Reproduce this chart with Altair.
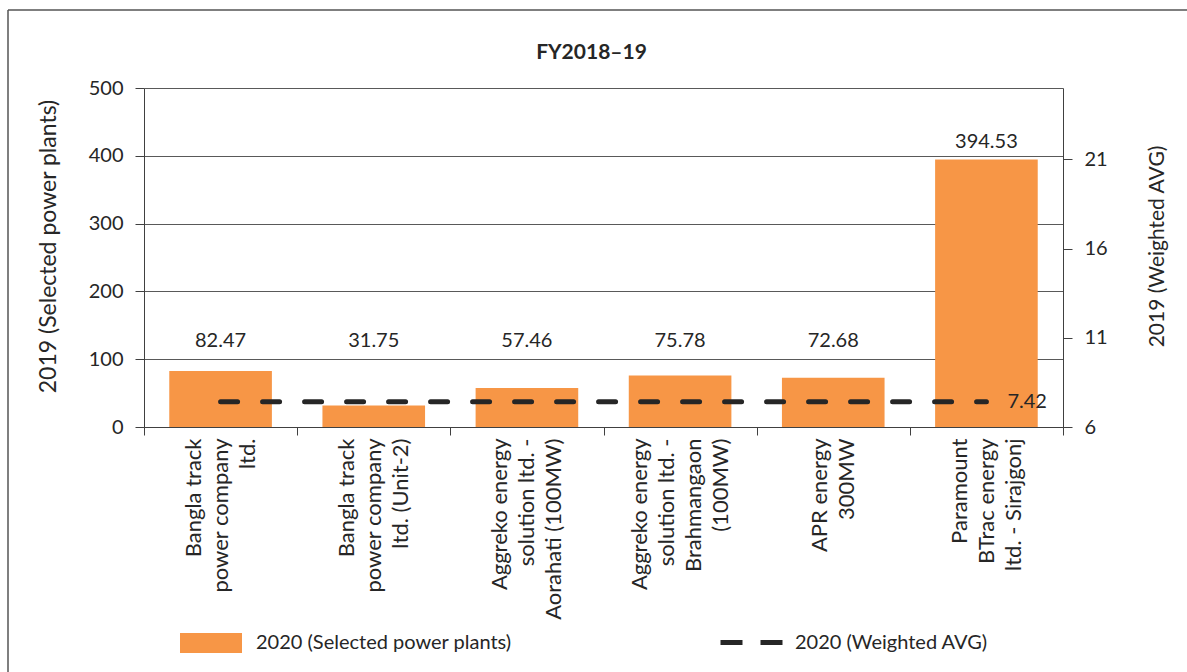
import altair as alt
import pandas as pd

# Plant names (line breaks are split into multi-line axis labels)
plants = [
    "Bangla track\npower company\nltd.",
    "Bangla track\npower company\nltd. (Unit-2)",
    "Aggreko energy\nsolution ltd. -\nAorahati (100MW)",
    "Aggreko energy\nsolution ltd. -\nBrahmangaon\n(100MW)",
    "APR energy\n300MW",
    "Paramount\nBTrac energy\nltd. - Sirajgonj",
]
plant_values = [82.47, 31.75, 57.46, 75.78, 72.68, 394.53]
weighted_avg = [7.42, 7.42, 7.42, 7.42, 7.42, 7.42]

left_ticks = [0, 100, 200, 300, 400, 500]
right_ticks = [6, 11, 16, 21]

bar_series = "2020 (Selected power plants)"
line_series = "2020 (Weighted AVG)"

FONT = "Lato"
ORANGE = "#F79646"
DARK = "#262626"
AXIS_GREY = "#404040"
LINE_H = 27

df = pd.DataFrame({
    "plant": plants,
    "value": plant_values,
    "avg": weighted_avg,
    "bar_series": [bar_series] * len(plants),
    "line_series": [line_series] * len(plants),
})

# Centre each block of stacked label lines on its category
n_lines = "length(split(datum.value, '\\n'))"
label_shift = {
    "condition": [
        {"test": f"{n_lines} == 2", "value": -LINE_H / 2},
        {"test": f"{n_lines} == 3", "value": -LINE_H},
        {"test": f"{n_lines} == 4", "value": -1.5 * LINE_H},
    ],
    "value": 0,
}

x_enc = alt.X(
    "plant:N",
    sort=None,
    scale=alt.Scale(paddingInner=0, paddingOuter=0),
    axis=alt.Axis(
        title=None,
        labelAngle=-90,
        labelExpr="split(datum.label, '\\n')",
        labelLineHeight=LINE_H,
        labelFontSize=22,
        labelColor=DARK,
        labelPadding=3,
        labelOffset=label_shift,
        tickBand="extent",
        tickSize=8,
        tickColor=AXIS_GREY,
        domainColor=AXIS_GREY,
        labelLimit=400,
    ),
)

left_axis = alt.Axis(
    title="2019 (Selected power plants)",
    values=left_ticks,
    grid=True,
    gridColor="#595959",
    gridWidth=1,
    tickSize=9,
    tickColor=AXIS_GREY,
    domainColor=AXIS_GREY,
    labelFontSize=20,
    labelColor=DARK,
    labelPadding=12,
    titleFontSize=23,
    titleFontWeight="normal",
    titleColor=DARK,
    titlePadding=28,
    titleY=158,
)

right_axis = alt.Axis(
    orient="right",
    title="2019 (Weighted AVG)",
    values=right_ticks,
    grid=False,
    tickSize=9,
    tickColor=AXIS_GREY,
    domainColor=AXIS_GREY,
    labelFontSize=20,
    labelColor=DARK,
    labelPadding=12,
    titleFontSize=21,
    titleFontWeight="normal",
    titleColor=DARK,
    titleAngle=270,
    titlePadding=60,
    titleY=158,
)

left_scale = alt.Scale(domain=[0, 500])
right_scale = alt.Scale(domain=[6, 25])

bars = alt.Chart(df).mark_bar(width={"band": 0.67}).encode(
    x=x_enc,
    y=alt.Y("value:Q", scale=left_scale, axis=left_axis),
    color=alt.Color(
        "bar_series:N",
        scale=alt.Scale(domain=[bar_series], range=[ORANGE]),
        legend=alt.Legend(
            title=None,
            orient="none",
            legendX=36,
            legendY=524,
            padding=0,
            symbolType="M-1,-0.32L1,-0.32L1,0.32L-1,0.32Z",
            symbolSize=3844,
            symbolStrokeWidth=0,
            symbolOpacity=1,
            labelFontSize=20,
            labelColor=DARK,
            labelOffset=14,
            labelLimit=500,
        ),
    ),
)

# Value labels sit above the bar, never lower than the 100 gridline
bar_text = alt.Chart(df).transform_calculate(
    label_y="max(datum.value, 100)"
).mark_text(dy=-18, fontSize=20, color=DARK, baseline="middle").encode(
    x=x_enc,
    y=alt.Y("label_y:Q", scale=left_scale, axis=left_axis),
    text=alt.Text("value:Q", format=".2f"),
)

avg_line = alt.Chart(df).mark_line(
    strokeWidth=5, strokeDash=[17, 25], strokeCap="round"
).encode(
    x=x_enc,
    y=alt.Y("avg:Q", scale=right_scale, axis=right_axis),
    stroke=alt.Stroke(
        "line_series:N",
        scale=alt.Scale(domain=[line_series], range=[DARK]),
        legend=alt.Legend(
            title=None,
            orient="none",
            legendX=574,
            legendY=521,
            padding=0,
            symbolType="stroke",
            symbolSize=3844,
            symbolStrokeWidth=5,
            symbolDash=[22, 18],
            labelFontSize=20,
            labelColor=DARK,
            labelOffset=10,
            labelLimit=500,
        ),
    ),
)

avg_text = alt.Chart(df).transform_filter(
    alt.datum.plant == plants[-1]
).mark_text(align="left", dx=21, fontSize=20, color=DARK, baseline="middle").encode(
    x=x_enc,
    y=alt.Y("avg:Q", scale=right_scale, axis=right_axis),
    text=alt.Text("avg:Q", format=".2f"),
)

# Outer frame edges
frame_data = pd.DataFrame({"k": [0]})
frame_left = alt.Chart(frame_data).mark_rule(color="#555555", strokeWidth=1.5).encode(
    x=alt.value(-136), y=alt.value(-78), y2=alt.value(600)
)
frame_top = alt.Chart(frame_data).mark_rule(color="#555555", strokeWidth=1.5).encode(
    x=alt.value(-136), x2=alt.value(1100), y=alt.value(-78)
)

left = alt.layer(bars, bar_text)
right = alt.layer(avg_line, avg_text)

# The frame's top edge sits above the plot, so the title offset is
# measured back down from it
chart = alt.layer(left, right, frame_left, frame_top).resolve_scale(
    y="independent"
).properties(
    width=919,
    height=339,
    padding={"left": 144, "top": 88, "right": 124, "bottom": 245},
    autosize=alt.AutoSizeParams(type="none"),
    title=alt.TitleParams(
        "FY2018\u201319", fontSize=21, fontWeight="bold", color=DARK,
        anchor="middle", offset=-54, frame="group", dx=-12,
    ),
).configure(
    font=FONT,
).configure_view(
    stroke=None,
)

chart.save("out.html", embed_options={"renderer": "svg", "actions": False})
